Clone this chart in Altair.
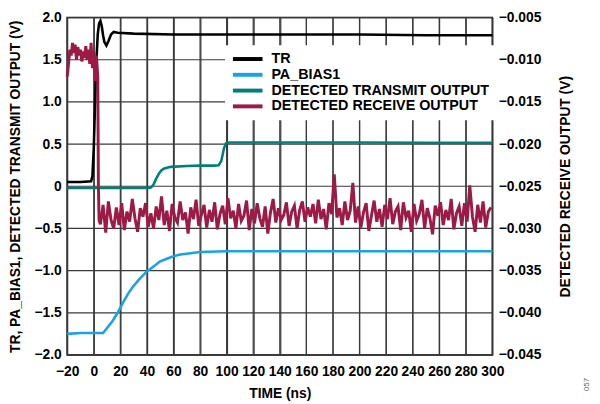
import altair as alt
import pandas as pd

series_names = ["TR", "PA_BIAS1", "DETECTED TRANSMIT OUTPUT", "DETECTED RECEIVE OUTPUT"]
series_colors = ["#000000", "#1aa3dc", "#007f78", "#9c1b46"]

x_ticks = list(range(-20, 301, 20))
left_ticks = [-2.0, -1.5, -1.0, -0.5, 0.0, 0.5, 1.0, 1.5, 2.0]
right_ticks = [-0.045, -0.040, -0.035, -0.030, -0.025, -0.020, -0.015, -0.010, -0.005]

tr_time = [-20, -10, -2, -1, 0, 1, 2, 3, 4, 5, 6, 7, 8, 9.5, 11, 13, 15, 18, 30, 60, 100, 150, 200, 250, 300]
tr_value = [0.05, 0.05, 0.06, 0.12, 0.45, 1.0, 1.5, 1.8, 1.93, 1.96, 1.9, 1.79, 1.71, 1.67, 1.72, 1.8, 1.83, 1.82,
            1.81, 1.80, 1.80, 1.80, 1.80, 1.79, 1.79]

pa_time = [-20, -10, 0, 7, 10, 14, 18, 22, 26, 30, 35, 40, 45, 50, 55, 60, 65, 70, 80, 100, 150, 200, 250, 300]
pa_value = [-1.75, -1.74, -1.74, -1.74, -1.68, -1.6, -1.5, -1.38, -1.27, -1.18, -1.09, -1.01, -0.95, -0.89,
            -0.86, -0.83, -0.81, -0.80, -0.78, -0.77, -0.77, -0.77, -0.77, -0.77]

tx_time = [-20, 0, 20, 40, 43, 45, 47, 49, 51, 53, 58, 70, 80, 90, 94, 96, 98, 99.5, 102, 120, 150, 200, 250, 300]
tx_value = [-0.02, -0.02, -0.02, -0.02, -0.015, 0.02, 0.09, 0.15, 0.19, 0.21, 0.23, 0.24, 0.245, 0.245, 0.25,
            0.30, 0.45, 0.51, 0.52, 0.52, 0.52, 0.52, 0.515, 0.515]

rx_time_early = [-20, -19, -18, -17, -16, -15, -14, -13, -12, -11, -10, -9, -8, -7, -6, -5, -4, -3, -2, -1,
                 0, 1, 2, 3, 3.5, 4]
rx_value_early = [-0.0120, -0.0105, -0.0088, -0.0095, -0.0080, -0.0092, -0.0082, -0.0100, -0.0085, -0.0095,
                  -0.0088, -0.0102, -0.0090, -0.0098, -0.0084, -0.0100, -0.0088, -0.0105, -0.0080, -0.0110,
                  -0.0090, -0.0125, -0.0095, -0.0120, -0.0250, -0.0290]
rx_time_late = list(range(5, 300, 2))
rx_value_late = [
    -0.0295, -0.0272, -0.0305, -0.0268, -0.0290, -0.0300, -0.0275, -0.0296, -0.0270, -0.0302,
    -0.0280, -0.0292, -0.0265, -0.0288, -0.0304, -0.0276, -0.0286, -0.0270, -0.0298, -0.0282,
    -0.0300, -0.0274, -0.0290, -0.0262, -0.0296, -0.0279, -0.0303, -0.0271, -0.0287, -0.0293,
    -0.0268, -0.0290, -0.0281, -0.0306, -0.0275, -0.0289, -0.0266, -0.0297, -0.0284, -0.0272,
    -0.0299, -0.0278, -0.0292, -0.0269, -0.0301, -0.0283, -0.0273, -0.0295, -0.0264, -0.0288,
    -0.0279, -0.0300, -0.0271, -0.0291, -0.0285, -0.0267, -0.0302, -0.0277, -0.0294, -0.0270,
    -0.0288, -0.0298, -0.0274, -0.0306, -0.0281, -0.0265, -0.0293, -0.0276, -0.0290, -0.0284,
    -0.0269, -0.0297, -0.0280, -0.0273, -0.0300, -0.0278, -0.0268, -0.0292, -0.0275, -0.0286,
    -0.0271, -0.0294, -0.0266, -0.0289, -0.0277, -0.0301, -0.0270, -0.0283, -0.0236, -0.0287,
    -0.0276, -0.0296, -0.0268, -0.0290, -0.0279, -0.0246, -0.0293, -0.0274, -0.0299, -0.0281,
    -0.0270, -0.0303, -0.0285, -0.0267, -0.0292, -0.0277, -0.0298, -0.0272, -0.0289, -0.0264,
    -0.0295, -0.0280, -0.0274, -0.0302, -0.0269, -0.0287, -0.0279, -0.0304, -0.0271, -0.0291,
    -0.0283, -0.0266, -0.0300, -0.0276, -0.0288, -0.0307, -0.0273, -0.0285, -0.0269, -0.0296,
    -0.0278, -0.0290, -0.0265, -0.0301, -0.0282, -0.0274, -0.0297, -0.0270, -0.0292, -0.0249,
    -0.0286, -0.0304, -0.0272, -0.0293, -0.0268, -0.0299, -0.0280, -0.0275,
]

FONT = "Liberation Sans"
W, H = 431, 342
GRID = "#3a3a3a"
X_DOM = [-20, 300]
YL_DOM = [-2, 2]

left_df = pd.concat([
    pd.DataFrame({"t": tr_time, "v": tr_value, "s": series_names[0]}),
    pd.DataFrame({"t": pa_time, "v": pa_value, "s": series_names[1]}),
    pd.DataFrame({"t": tx_time, "v": tx_value, "s": series_names[2]}),
], ignore_index=True)
right_df = pd.DataFrame({
    "t": rx_time_early + rx_time_late,
    "v": rx_value_early + rx_value_late,
    "s": series_names[3],
})

x_scale = alt.Scale(domain=X_DOM, nice=False, zero=False)
yl_scale = alt.Scale(domain=YL_DOM, nice=False, zero=False)
yr_scale = alt.Scale(domain=[-0.045, -0.005], nice=False, zero=False)
color_scale = alt.Scale(domain=series_names, range=series_colors)

legend = alt.Legend(
    orient="none", legendX=160, legendY=28, title=None, fillColor="white",
    padding=6, symbolType="M-2.5,0L2.5,0", symbolStrokeWidth=4, symbolSize=144,
    symbolOffset=9, labelOffset=16,
    labelFont=FONT, labelFontSize=14.5, labelFontWeight="bold", labelColor="black",
    rowPadding=0, labelLimit=400,
)

x_axis = alt.Axis(values=x_ticks, format="d", grid=True, gridColor=GRID, gridWidth=1.2,
                  gridOpacity=1, ticks=False, domain=False,
                  labelPadding=10, labelOverlap=False, labelFlush=False,
                  title="TIME (ns)", titleY=39, titleBaseline="middle")

vgrid = alt.Chart(pd.DataFrame({"t": x_ticks})).mark_tick(
    color=GRID, thickness=1.2, size=H, opacity=1
).encode(x=alt.X("t:Q", scale=x_scale, axis=x_axis))
hgrid = alt.Chart(pd.DataFrame({"v": left_ticks})).mark_tick(
    color=GRID, thickness=1.2, size=W, opacity=1
).encode(y=alt.Y("v:Q", scale=yl_scale, axis=None))

left_lines = alt.Chart(left_df).mark_line(strokeWidth=2.6).encode(
    x=alt.X("t:Q", scale=x_scale, axis=x_axis),
    y=alt.Y(
        "v:Q", scale=yl_scale,
        axis=alt.Axis(values=left_ticks, orient="left",
                      labelExpr="datum.value == 0 ? '0' : format(datum.value, '.1f')",
                      grid=False, ticks=False, domain=False, labelPadding=6, labelFlush=False,
                      labelOverlap=False,
                      title="TR, PA_BIAS1, DETECTED TRANSMIT OUTPUT (V)",
                      titleX=-52, titleY=H / 2, titleAngle=270, titleAlign="center",
                      titleBaseline="middle"),
    ),
    color=alt.Color("s:N", scale=color_scale, legend=legend),
)

right = alt.Chart(right_df).mark_line(strokeWidth=3).encode(
    x=alt.X("t:Q", scale=x_scale, axis=x_axis),
    y=alt.Y(
        "v:Q", scale=yr_scale,
        axis=alt.Axis(values=right_ticks, orient="right", format=".3f",
                      grid=False, ticks=False, domain=False, labelPadding=6, labelFlush=False,
                      labelOverlap=False,
                      title="DETECTED RECEIVE OUTPUT (V)",
                      titleX=74, titleY=H / 2, titleAngle=270, titleAlign="center",
                      titleBaseline="middle"),
    ),
    color=alt.Color("s:N", scale=color_scale, legend=legend),
)

note = alt.Chart(pd.DataFrame({"txt": ["057"]})).mark_text(
    angle=270, fontSize=8, font=FONT, color="#666666"
).encode(x=alt.value(527), y=alt.value(372), text="txt:N")

chart = alt.layer(vgrid, hgrid, left_lines, right, note).resolve_scale(y="independent").properties(
    width=W, height=H,
    autosize=alt.AutoSizeParams(type="none"),
    padding={"left": 60, "top": 7, "right": 101, "bottom": 47},
    background="white",
).configure_view(stroke="black", strokeWidth=1.5).configure_axis(
    labelFont=FONT, labelFontSize=14, labelFontWeight="bold", labelColor="black",
    titleFont=FONT, titleFontSize=14, titleFontWeight="bold", titleColor="black",
)

chart.save("out.html", embed_options={"renderer": "svg", "actions": False})
